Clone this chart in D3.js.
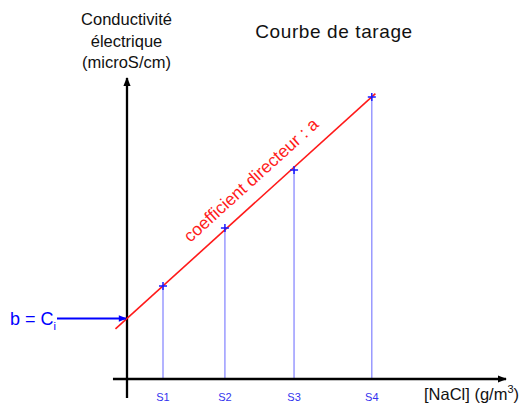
<!DOCTYPE html>
<html>
<head>
<meta charset="utf-8">
<script src="https://cdn.jsdelivr.net/npm/d3@7"></script>
<style>
  body { margin: 0; background: #fff; }
  text { font-family: "Liberation Sans", Arial, sans-serif; }
</style>
</head>
<body>
<script>
// samples: concentration (g/m3) and measured conductivity
const samples = ["S1", "S2", "S3", "S4"];
const concentrations = [1.0, 2.72, 4.64, 6.8];
const conductivities = [93, 151, 209, 282];
// calibration line y = a*x + b
const slopeA = 32.6;
const interceptB = 60.5;
const lineRange = [-0.32, 6.9];
const yLabelLines = ["Conductivité", "électrique", "(microS/cm)"];

const width = 527, height = 403;

const svg = d3.select("body").append("svg")
  .attr("width", width)
  .attr("height", height);

const x = d3.scaleLinear().domain([0, 1]).range([127, 163]);
const y = d3.scaleLinear().domain([0, 100]).range([379, 279]);

const defs = svg.append("defs");
defs.append("marker")
  .attr("id", "arrowBlack")
  .attr("viewBox", "0 0 10 10")
  .attr("refX", 9).attr("refY", 5)
  .attr("markerWidth", 4).attr("markerHeight", 4)
  .attr("markerUnits", "strokeWidth")
  .attr("orient", "auto")
  .append("path").attr("d", "M0,1 L10,5 L0,9 z").attr("fill", "#000");
defs.append("marker")
  .attr("id", "arrowBlue")
  .attr("viewBox", "0 0 10 10")
  .attr("refX", 9).attr("refY", 5)
  .attr("markerWidth", 5).attr("markerHeight", 4)
  .attr("markerUnits", "strokeWidth")
  .attr("orient", "auto")
  .append("path").attr("d", "M0,1 L10,5 L0,9 z").attr("fill", "#0000ff");

// vertical drop lines
svg.selectAll(".drop")
  .data(concentrations)
  .join("line")
  .attr("class", "drop")
  .attr("x1", d => x(d)).attr("x2", d => x(d))
  .attr("y1", (d, i) => y(conductivities[i]) - 1)
  .attr("y2", y(0))
  .attr("stroke", "#8a8aff")
  .attr("stroke-width", 1.3);

// axes
svg.append("line")
  .attr("x1", x(-0.39)).attr("x2", 506)
  .attr("y1", y(0)).attr("y2", y(0))
  .attr("stroke", "#000").attr("stroke-width", 2.3)
  .attr("marker-end", "url(#arrowBlack)");

svg.append("line")
  .attr("x1", x(0)).attr("x2", x(0))
  .attr("y1", y(-19)).attr("y2", 78)
  .attr("stroke", "#000").attr("stroke-width", 2.3)
  .attr("marker-end", "url(#arrowBlack)");

// calibration line
svg.append("line")
  .attr("x1", x(lineRange[0])).attr("y1", y(slopeA * lineRange[0] + interceptB))
  .attr("x2", x(lineRange[1])).attr("y2", y(slopeA * lineRange[1] + interceptB))
  .attr("stroke", "#ff1a1a").attr("stroke-width", 1.6);

// crosses
svg.selectAll(".cross")
  .data(concentrations)
  .join("path")
  .attr("class", "cross")
  .attr("d", (d, i) => {
    const cx = x(d), cy = y(conductivities[i]);
    return `M${cx - 4},${cy}H${cx + 4}M${cx},${cy - 4}V${cy + 4}`;
  })
  .attr("stroke", "#1a1aff").attr("stroke-width", 1.5);

// sample labels
svg.selectAll(".slabel")
  .data(samples)
  .join("text")
  .attr("class", "slabel")
  .attr("x", (d, i) => x(concentrations[i]))
  .attr("y", 401)
  .attr("text-anchor", "middle")
  .attr("font-size", "11px")
  .attr("fill", "#3333ee")
  .text(d => d);

// intercept arrow
svg.append("line")
  .attr("x1", 57).attr("x2", x(0) - 1)
  .attr("y1", y(interceptB)).attr("y2", y(interceptB))
  .attr("stroke", "#0000ff").attr("stroke-width", 2)
  .attr("marker-end", "url(#arrowBlue)");

const bText = svg.append("text")
  .attr("x", 10).attr("y", y(interceptB) + 6)
  .attr("font-size", "18px")
  .attr("fill", "#0000ff");
bText.append("tspan").text("b = C");
bText.append("tspan").attr("font-size", "11px").attr("dy", 5).text("i");

// slope label
const angle = Math.atan2(y(slopeA * 6 + interceptB) - y(interceptB), x(6) - x(0)) * 180 / Math.PI;
svg.append("text")
  .attr("transform", `translate(${x(3.5) + 2},${y(slopeA * 3.5 + interceptB) - 20}) rotate(${angle})`)
  .attr("text-anchor", "middle")
  .attr("font-size", "17.4px")
  .attr("fill", "#ff1a1a")
  .text("coefficient directeur : a");

// title
svg.append("text")
  .attr("x", 334).attr("y", 37.5)
  .attr("text-anchor", "middle")
  .attr("font-size", "19px")
  .attr("letter-spacing", "0.6px")
  .attr("fill", "#111")
  .text("Courbe de tarage");

// y label
svg.selectAll(".ylab")
  .data(yLabelLines)
  .join("text")
  .attr("class", "ylab")
  .attr("x", 126.5)
  .attr("y", (d, i) => 25 + i * 21.5)
  .attr("text-anchor", "middle")
  .attr("font-size", "16.5px")
  .attr("fill", "#111")
  .text(d => d);

// x label
const xl = svg.append("text")
  .attr("x", 424).attr("y", 400)
  .attr("font-size", "16.5px")
  .attr("fill", "#111");
xl.append("tspan").text("[NaCl] (g/m");
xl.append("tspan").attr("font-size", "11px").attr("dy", -7).text("3");
xl.append("tspan").attr("dy", 7).text(")");
</script>
</body>
</html>
